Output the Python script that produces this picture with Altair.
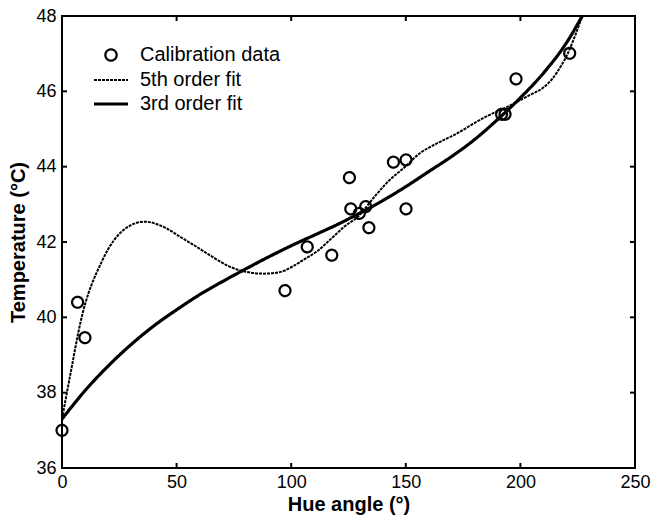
import altair as alt
import pandas as pd

# Calibration measurements: hue angle (degrees) vs temperature (deg C)
hue_angle = [0.0, 6.8, 10.0, 97.3, 107.0, 117.7, 125.4, 126.0, 129.7, 132.5,
             133.9, 144.6, 150.1, 150.1, 191.8, 193.3, 198.1, 221.5]
temperature = [37.0, 40.4, 39.46, 40.71, 41.87, 41.65, 43.71, 42.88, 42.76, 42.94,
               42.38, 44.12, 44.18, 42.88, 45.39, 45.39, 46.33, 47.01]

# 5th order polynomial fit, sampled along the hue axis
fit5_x = [0, 4, 8, 17.5, 27.5, 36, 45, 52, 58, 65, 72, 78, 88, 95, 100, 106,
          111, 118, 123, 129, 137, 143, 149, 156, 163, 171, 185, 194, 204, 210,
          214, 218, 220, 224, 227]
fit5_y = [37.3, 38.6, 39.85, 41.5, 42.35, 42.54, 42.38, 42.12, 41.9, 41.63, 41.38,
          41.24, 41.16, 41.2, 41.33, 41.55, 41.74, 42.12, 42.4, 42.67, 43.25, 43.65,
          43.96, 44.35, 44.6, 44.84, 45.33, 45.58, 45.9, 46.1, 46.34, 46.7, 46.92,
          47.5, 48.0]

# 3rd order polynomial fit
fit3_x = [0, 10, 20, 30, 40, 50, 60, 70, 80, 90, 100, 110, 120, 130, 140,
          150, 160, 170, 180, 190, 200, 210, 220, 227]
fit3_y = [37.3, 38.05, 38.7, 39.27, 39.77, 40.2, 40.6, 40.95, 41.28, 41.6, 41.9,
          42.18, 42.46, 42.77, 43.1, 43.47, 43.87, 44.27, 44.72, 45.25, 45.83,
          46.48, 47.28, 48.0]

series_names = ["Calibration data", "5th order fit", "3rd order fit"]
x_ticks = [0, 50, 100, 150, 200, 250]
y_ticks = [36, 38, 40, 42, 44, 46, 48]

points = pd.DataFrame({"hue": hue_angle, "temp": temperature,
                       "series": series_names[0]})
fits = pd.concat([
    pd.DataFrame({"hue": fit5_x, "temp": fit5_y, "series": series_names[1]}),
    pd.DataFrame({"hue": fit3_x, "temp": fit3_y, "series": series_names[2]}),
])
xt = pd.DataFrame({"v": x_ticks})
yt = pd.DataFrame({"v": y_ticks})

FONT = "Liberation Sans"
W, H, TICK = 573, 452, 5
x_scale = alt.Scale(domain=[0, 250], nice=False, zero=False)
y_scale = alt.Scale(domain=[36, 48], nice=False, zero=False)

legend = alt.Legend(title=None, orient="none", legendX=39, legendY=29,
                    labelFont=FONT, labelFontSize=20, labelColor="black",
                    labelOffset=19, rowPadding=4, symbolSize=128,
                    symbolStrokeColor="black", symbolOpacity=1, padding=0)

shape_enc = alt.Shape("series:N", legend=legend,
                      scale=alt.Scale(domain=series_names,
                                      range=["circle", "M-3,0H3", "M-3,0H3"]))
dash_enc = alt.StrokeDash("series:N", legend=legend,
                          scale=alt.Scale(domain=series_names,
                                          range=[[1, 0], [3, 1], [1, 0]]))
width_enc = alt.StrokeWidth("series:N", legend=legend,
                            scale=alt.Scale(type="ordinal", domain=series_names,
                                            range=[2.2, 2, 3.2]))

# The same axis definitions are given to every layer so the shared axes merge
x_axis = alt.Axis(title="Hue angle (°)", values=x_ticks, ticks=False,
                  domain=False, grid=False, labelPadding=5, titlePadding=3,
                  labelFlush=False)
y_axis = alt.Axis(title="Temperature (°C)", values=y_ticks, ticks=False,
                  domain=False, grid=False, labelPadding=6, titlePadding=7,
                  labelFlush=False)
X_ENC = dict(scale=x_scale, axis=x_axis)
Y_ENC = dict(scale=y_scale, axis=y_axis)

# Inward-pointing tick marks on all four sides of the frame
tick_style = dict(color="black", strokeWidth=2)
ticks_bottom = alt.Chart(xt).mark_rule(**tick_style).encode(
    x=alt.X("v:Q", **X_ENC), y=alt.value(H), y2=alt.value(H - TICK))
ticks_top = alt.Chart(xt).mark_rule(**tick_style).encode(
    x=alt.X("v:Q", **X_ENC), y=alt.value(0), y2=alt.value(TICK))
ticks_left = alt.Chart(yt).mark_rule(**tick_style).encode(
    y=alt.Y("v:Q", **Y_ENC), x=alt.value(0), x2=alt.value(TICK))
ticks_right = alt.Chart(yt).mark_rule(**tick_style).encode(
    y=alt.Y("v:Q", **Y_ENC), x=alt.value(W), x2=alt.value(W - TICK))

lines = alt.Chart(fits).mark_line(color="black", interpolate="monotone").encode(
    x=alt.X("hue:Q", **X_ENC),
    y=alt.Y("temp:Q", **Y_ENC),
    detail="series:N",
    strokeDash=dash_enc,
    strokeWidth=width_enc,
)

dots = alt.Chart(points).mark_point(color="black", filled=False, size=120,
                                    opacity=1).encode(
    x=alt.X("hue:Q", **X_ENC),
    y=alt.Y("temp:Q", **Y_ENC),
    shape=shape_enc,
    strokeDash=dash_enc,
    strokeWidth=width_enc,
)

chart = (
    alt.layer(ticks_bottom, ticks_top, ticks_left, ticks_right, lines, dots)
    .properties(width=W, height=H, autosize=alt.AutoSizeParams(type="none"),
                padding={"left": 62, "top": 16, "right": 16, "bottom": 50})
    .configure_view(stroke="black", strokeWidth=2)
    .configure_axis(labelFont=FONT, labelFontSize=18, labelColor="black",
                    titleFont=FONT, titleFontSize=20, titleFontWeight="bold",
                    titleColor="black")
)

chart.save("out.html", embed_options={"renderer": "svg", "actions": False})
